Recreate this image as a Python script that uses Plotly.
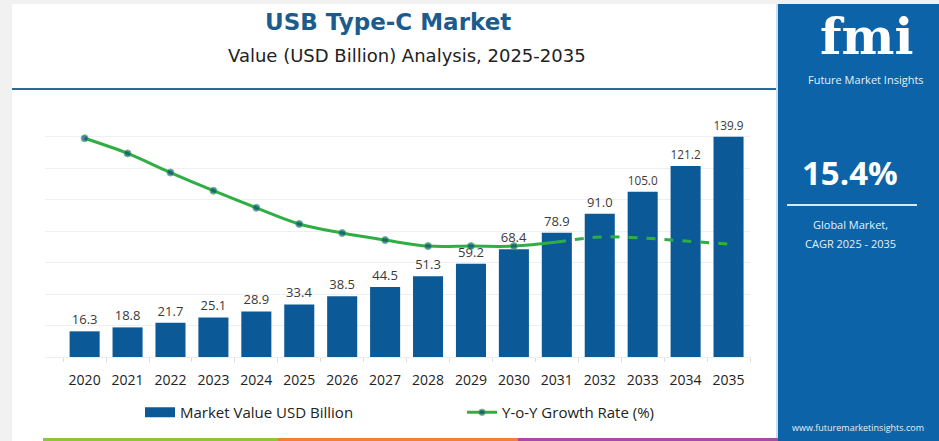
import plotly.graph_objects as go

years = [str(y) for y in range(2020, 2036)]
market_value = [16.3, 18.8, 21.7, 25.1, 28.9, 33.4, 38.5, 44.5, 51.3, 59.2, 68.4, 78.9, 91.0, 105.0, 121.2, 139.9]
value_labels = ["16.3", "18.8", "21.7", "25.1", "28.9", "33.4", "38.5", "44.5", "51.3", "59.2", "68.4", "78.9", "91.0", "105.0", "121.2", "139.9"]
growth_rate = [21.7, 20.2, 18.3, 16.5, 14.8, 13.2, 12.3, 11.6, 11.0, 11.0, 11.0, 11.4, 11.9, 11.8, 11.5, 11.2]

W, H = 939, 441
ML, MR, MT, MB = 45, 189, 105, 84
PW, PH = W - ML - MR, H - MT - MB

def px(x):
    return (x - ML) / PW

def py(y):
    return (H - MB - y) / PH

BAR = "#0b5a97"
PANEL = "#0c63a7"
GREEN = "#2fae45"
DOT = "#0d4c7e"
FONT = "Open Sans"
WIDE = "DejaVu Sans"

fig = go.Figure()
fig.add_trace(go.Bar(
    x=years, y=market_value, name="Market Value USD Billion", showlegend=False,
    marker=dict(color=BAR, line=dict(width=0)),
    text=value_labels, textposition="outside", cliponaxis=False,
    textfont=dict(size=13, color="#3a3a3a", family=FONT),
))
# legend-only entry drawn as a wide swatch like the reference
fig.add_trace(go.Scatter(
    x=[None], y=[None], name="Market Value USD Billion", mode="lines",
    line=dict(color=BAR, width=13),
))
n_solid = 12
fig.add_trace(go.Scatter(
    x=years[:n_solid], y=growth_rate[:n_solid], yaxis="y2",
    name="Y-o-Y Growth Rate (%)", mode="lines+markers",
    line=dict(color=GREEN, width=3, shape="spline"),
    marker=dict(color=DOT, size=[7] * (n_solid - 1) + [0]),
))
fig.add_trace(go.Scatter(
    x=years[n_solid - 1:], y=growth_rate[n_solid - 1:], yaxis="y2",
    mode="lines", showlegend=False,
    line=dict(color=GREEN, width=3, shape="spline", dash="dash"),
))

shapes = [
    dict(type="rect", xref="paper", yref="paper", x0=px(12), x1=px(778), y0=py(441), y1=py(4),
         fillcolor="white", line=dict(width=0), layer="below"),
    dict(type="line", xref="paper", yref="paper", x0=px(12), x1=px(776), y0=py(89), y1=py(89),
         line=dict(color="#2b6a96", width=2)),
    dict(type="rect", xref="paper", yref="paper", x0=px(778), x1=px(939), y0=py(441), y1=py(4),
         fillcolor=PANEL, line=dict(width=0)),
    dict(type="line", xref="paper", yref="paper", x0=px(777), x1=px(777), y0=py(441), y1=py(4),
         line=dict(color="#8fc3e6", width=1)),
    dict(type="line", xref="paper", yref="paper", x0=px(787), x1=px(917), y0=py(205), y1=py(205),
         line=dict(color="#d8e8f5", width=2)),
    dict(type="rect", xref="paper", yref="paper", x0=px(43), x1=px(278), y0=py(441), y1=py(438),
         fillcolor="#8cc63f", line=dict(width=0)),
    dict(type="rect", xref="paper", yref="paper", x0=px(278), x1=px(518), y0=py(441), y1=py(438),
         fillcolor="#f07f3c", line=dict(width=0)),
    dict(type="rect", xref="paper", yref="paper", x0=px(518), x1=px(778), y0=py(441), y1=py(438),
         fillcolor="#a64ca6", line=dict(width=0)),
]

def ann(text, x, y, size, color, bold=False, family=FONT, xanchor="center"):
    return dict(text=f"<b>{text}</b>" if bold else text, x=px(x), y=py(y), xref="paper", yref="paper",
                xanchor=xanchor, yanchor="middle", showarrow=False,
                font=dict(size=size, color=color, family=family))

annotations = [
    ann("USB Type-C Market", 388, 22, 23, "#1b5b8e", bold=True, family=WIDE),
    ann("Value (USD Billion) Analysis, 2025-2035", 407, 55, 18, "#222222", family=WIDE),
    ann("fmi", 866, 36, 50, "white", bold=True, family="DejaVu Serif"),
    ann("Future Market Insights", 866, 80, 11, "#e6f0f8"),
    ann("15.4%", 850, 172, 33, "white", bold=True),
    ann("Global Market,", 850, 224, 11, "#e6f0f8"),
    ann("CAGR 2025 - 2035", 850, 243, 11, "#e6f0f8"),
    ann("www.futuremarketinsights.com", 858, 427, 9, "#e6f0f8"),
]

fig.update_layout(
    width=W, height=H,
    margin=dict(l=ML, r=MR, t=MT, b=MB, autoexpand=False),
    paper_bgcolor="#f1f1f1", plot_bgcolor="white",
    font=dict(family=FONT, color="#222"),
    bargap=0.3,
    showlegend=True,
    legend=dict(orientation="h", x=px(140), xanchor="left", y=py(396), yanchor="top",
                font=dict(size=15, color="#222", family=FONT), entrywidth=277,
                bgcolor="rgba(0,0,0,0)", itemclick=False),
    xaxis=dict(type="category", showgrid=False, ticks="outside", tickson="boundaries",
               ticklen=4, tickcolor="#dddddd", showline=True, linecolor="#eeeeee",
               tickangle=0, automargin=False, ticklabelstandoff=10,
               tickfont=dict(size=14, color="#222", family=FONT)),
    yaxis=dict(range=[0, 160], dtick=20, showgrid=True, gridcolor="#efefef",
               showticklabels=False, zeroline=False, automargin=False),
    yaxis2=dict(range=[0, 25], overlaying="y", showgrid=False, showticklabels=False,
                zeroline=False, visible=False),
    shapes=shapes, annotations=annotations,
)

fig.write_html("out.html")
